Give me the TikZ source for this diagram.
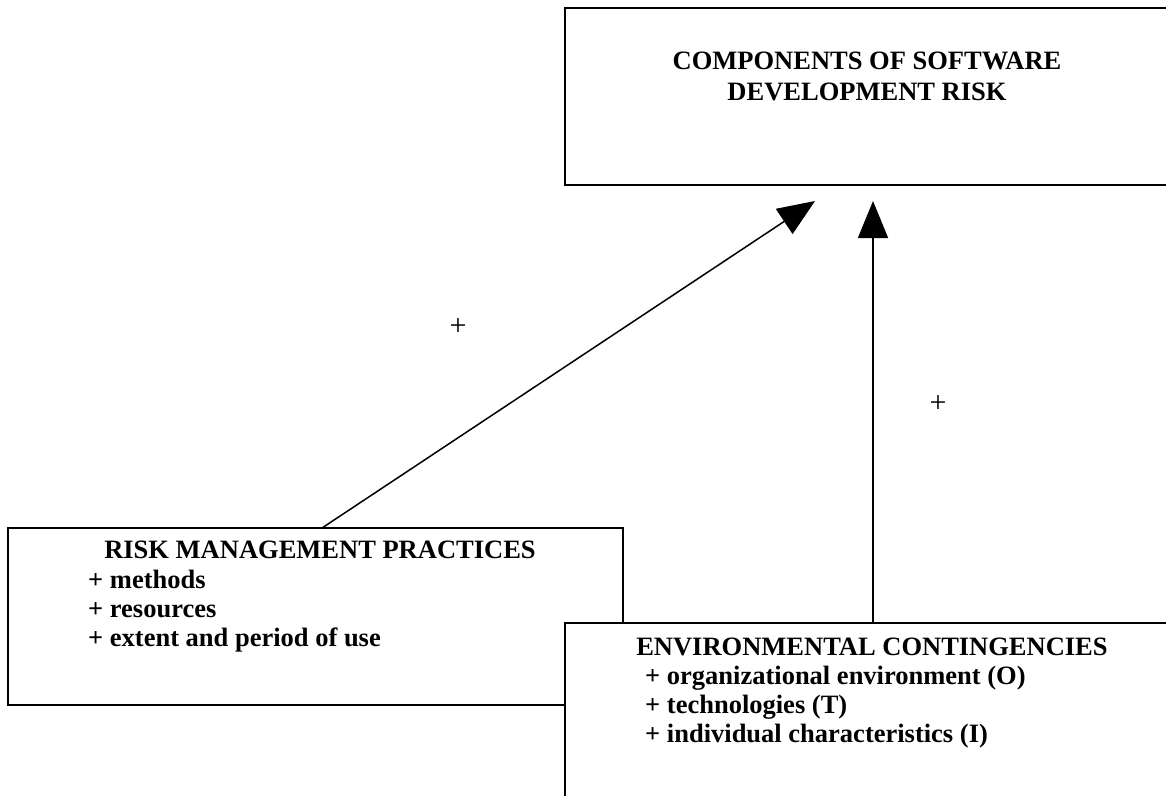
\documentclass[tikz,border=0pt]{standalone}
\usepackage{fontspec}
\setmainfont{Liberation Serif}
\usetikzlibrary{arrows.meta}
\begin{document}
\begin{tikzpicture}[x=1pt,y=-1pt,
  box/.style={draw=black, line width=1.6pt, fill=white, rectangle, inner sep=0pt},
  ttl/.style={font=\bfseries\fontsize{26.5}{29}\selectfont, inner sep=0pt, anchor=base},
  itm/.style={font=\bfseries\fontsize{26.5}{29}\selectfont, inner sep=0pt, anchor=base west},
  sgn/.style={font=\fontsize{30}{30}\selectfont, inner sep=0pt},
  arr/.style={line width=1.5pt, -{Triangle[length=37pt,width=30pt]}}]
\useasboundingbox (0,0) rectangle (1166,795);
\clip (0,0) rectangle (1166,795);
% boxes
\node[box, minimum width=612pt, minimum height=177pt] (comp) at (871,96.5) {};
\node[box, minimum width=615pt, minimum height=177pt] (rmp) at (315.5,616.5) {};
\node[box, minimum width=612pt, minimum height=180pt] (env) at (871,713) {};
% texts
\node[ttl] (t1) at (867,69) {COMPONENTS OF SOFTWARE};
\node[ttl] (t2) at (867,100) {DEVELOPMENT RISK};
\node[ttl] (r0) at (320,558) {RISK MANAGEMENT PRACTICES};
\node[itm] (r1) at (88,588) {+ methods};
\node[itm] (r2) at (88,617) {+ resources};
\node[itm] (r3) at (88,646) {+ extent and period of use};
\node[ttl] (e0) at (872,655) {ENVIRONMENTAL CONTINGENCIES};
\node[itm] (e1) at (645,684) {+ organizational environment (O)};
\node[itm] (e2) at (645,713) {+ technologies (T)};
\node[itm] (e3) at (645,742) {+ individual characteristics (I)};
% signs
\node[sgn] (p1) at (458,327) {+};
\node[sgn] (p2) at (938,404) {+};
% connectors
\coordinate (a1s) at (322,528);
\coordinate (a1e) at (815,201);
\coordinate (a2e) at (873,201);
\draw[arr] (a1s) -- (a1e);
\draw[arr] (env.north -| a2e) -- (a2e);
\end{tikzpicture}
\end{document}
